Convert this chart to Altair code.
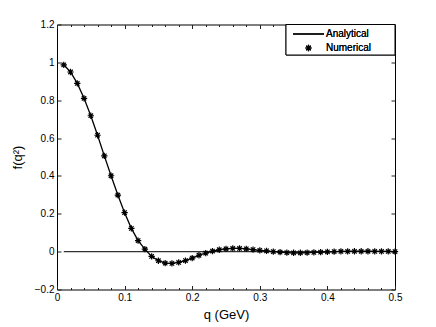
import altair as alt
import pandas as pd

# Data
q = [0.01, 0.02, 0.03, 0.04, 0.05, 0.06, 0.07, 0.08, 0.09, 0.10,
     0.11, 0.12, 0.13, 0.14, 0.15, 0.16, 0.17, 0.18, 0.19, 0.20,
     0.21, 0.22, 0.23, 0.24, 0.25, 0.26, 0.27, 0.28, 0.29, 0.30,
     0.31, 0.32, 0.33, 0.34, 0.35, 0.36, 0.37, 0.38, 0.39, 0.40,
     0.41, 0.42, 0.43, 0.44, 0.45, 0.46, 0.47, 0.48, 0.49, 0.50]
f_values = [0.987, 0.949, 0.889, 0.810, 0.718, 0.615, 0.506, 0.401, 0.299, 0.206,
            0.123, 0.058, 0.013, -0.025, -0.048, -0.061, -0.062, -0.057, -0.047, -0.034,
            -0.019, -0.008, 0.003, 0.010, 0.015, 0.017, 0.017, 0.015, 0.011, 0.007,
            0.004, 0.000, -0.003, -0.005, -0.006, -0.006, -0.005, -0.004, -0.003, -0.001,
            0.000, 0.001, 0.001, 0.002, 0.002, 0.002, 0.001, 0.001, 0.001, 0.000]
zero_q = [0.01, 0.5]
zero_f = [0.0, 0.0]

x_major = [0.0, 0.1, 0.2, 0.3, 0.4, 0.5]
x_minor = [round(i * 0.02, 2) for i in range(26)]
y_major = [-0.2, 0.0, 0.2, 0.4, 0.6, 0.8, 1.0, 1.2]

df = pd.DataFrame({"q": q, "f": f_values})
dz = pd.DataFrame({"q": zero_q, "f": zero_f})

W, H = 338, 265
FONT = "Liberation Sans"
xs = alt.Scale(domain=[0, 0.5], nice=False, zero=False)
ys = alt.Scale(domain=[-0.2, 1.2], nice=False, zero=False)

common_axis = dict(domain=False, grid=False, tickColor="#222", labelColor="black",
                   labelFont=FONT, labelFontSize=10, titleFont=FONT, labelFlush=False,
                   titleFontSize=13, titleFontWeight="normal", titleColor="black")

lab = "datum.value == 0 ? '0' : (datum.value < 0 ? '\u2212' + format(-datum.value, '~g') : format(datum.value, '~g'))"

# layer A: zero line + bottom/left major axes
zero_line = alt.Chart(dz).mark_line(color="#333", strokeWidth=1.2).encode(
    x=alt.X("q:Q", scale=xs, axis=alt.Axis(orient="bottom", values=x_major, offset=-4,
            tickSize=4, labelPadding=3, title="q (GeV)", titlePadding=6,
            labelExpr=lab, **common_axis)),
    y=alt.Y("f:Q", scale=ys, axis=alt.Axis(orient="left", values=y_major, offset=-4,
            tickSize=4, labelPadding=3, title="f(q\u00b2)", titlePadding=10,
            labelExpr=lab, **common_axis)),
)

# layer B: analytical curve + top/right major ticks
curve = alt.Chart(df).mark_line(color="black", strokeWidth=1.3).encode(
    x=alt.X("q:Q", scale=xs, axis=alt.Axis(orient="top", values=x_major, offset=-4,
            tickSize=4, labels=False, title=None, **common_axis)),
    y=alt.Y("f:Q", scale=ys, axis=alt.Axis(orient="right", values=y_major, offset=-4,
            tickSize=4, labels=False, title=None, **common_axis)),
)

star = "M0,-1L0,1M-1,0L1,0M-0.7,-0.7L0.7,0.7M-0.7,0.7L0.7,-0.7"

# layer C: numerical points + bottom minor ticks
points = alt.Chart(df).mark_point(shape=star, filled=False, color="black",
                                  strokeWidth=1.2, size=40, opacity=1).encode(
    x=alt.X("q:Q", scale=xs, axis=alt.Axis(orient="bottom", values=x_minor, offset=-2,
            tickSize=2, labels=False, title=None, **common_axis)),
    y=alt.Y("f:Q", scale=ys, axis=None),
)

# layer D: top minor ticks (invisible marks)
top_minor = alt.Chart(dz).mark_point(opacity=0).encode(
    x=alt.X("q:Q", scale=xs, axis=alt.Axis(orient="top", values=x_minor, offset=-2,
            tickSize=2, labels=False, title=None, **common_axis)),
    y=alt.Y("f:Q", scale=ys, axis=None),
)

# legend (manual, in pixel space)
leg_box = alt.Chart(dz).mark_rect(fill="white", stroke="black", strokeWidth=1).encode(
    x=alt.value(229), x2=alt.value(W), y=alt.value(0), y2=alt.value(30.5))
leg_line = alt.Chart(dz).mark_rule(color="black", strokeWidth=1.3).encode(
    x=alt.value(236), x2=alt.value(267), y=alt.value(9.5))
leg_pt = alt.Chart(dz).mark_point(shape=star, filled=False, color="black",
                                  strokeWidth=1.2, size=40, opacity=1).encode(
    x=alt.value(251.5), y=alt.value(23.5))
leg_t1 = alt.Chart(dz).mark_text(text="Analytical", align="left", baseline="middle",
                                 font=FONT, fontSize=10, color="black").encode(
    x=alt.value(269), y=alt.value(9.5))
leg_t2 = alt.Chart(dz).mark_text(text="Numerical", align="left", baseline="middle",
                                 font=FONT, fontSize=10, color="black").encode(
    x=alt.value(269), y=alt.value(23.5))

chart = alt.layer(zero_line, curve, points, top_minor,
                  leg_box, leg_line, leg_pt, leg_t1, leg_t2).resolve_axis(
    x="independent", y="independent"
).properties(
    width=W, height=H,
    autosize=alt.AutoSizeParams(type="none"),
    padding={"left": 49, "top": 16.5, "right": 30, "bottom": 37},
    background="white",
).configure_view(stroke="black", strokeWidth=1)

chart.save("out.html", embed_options={"renderer": "svg", "actions": False})
